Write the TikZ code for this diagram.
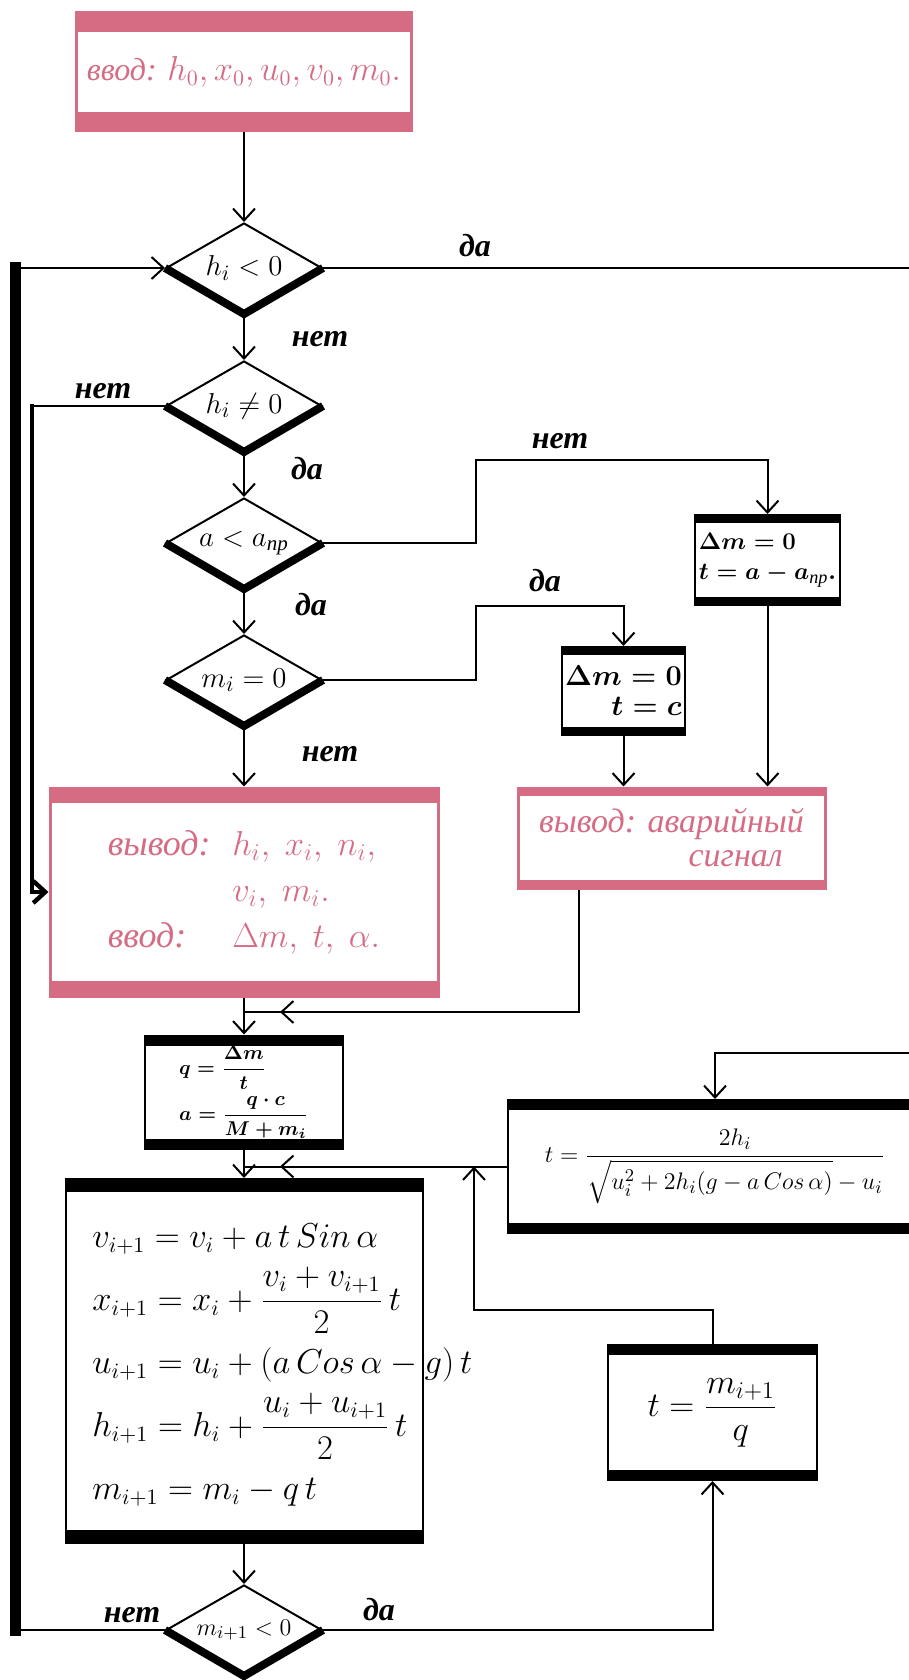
\documentclass[tikz,border=0pt]{standalone}
\usepackage{amsmath}
\usepackage{fontspec}
\setmainfont{Liberation Serif}
\usetikzlibrary{arrows.meta, shapes.geometric, decorations.markings, calc}
\definecolor{cpink}{HTML}{D56C84}
\tikzset{
  barh/.store in=\barw, barh=5pt,
  box/.style={draw=#1, fill=white, line width=1pt, inner sep=0pt, align=left,
    path picture={
      \fill[#1] (path picture bounding box.north west) rectangle ([yshift=-\barw]path picture bounding box.north east);
      \fill[#1] (path picture bounding box.south west) rectangle ([yshift=\barw]path picture bounding box.south east);}},
  box/.default=black,
  pk/.style={box=cpink, text=cpink, line width=1.5pt, font=\fontsize{16}{23}\selectfont\itshape},
  dec/.style={diamond, draw, fill=white, line width=1pt, aspect=1.75, minimum width=78pt, minimum height=45pt,
    inner sep=0pt, font=\fontsize{15}{17}\selectfont},
  lbl/.style={font=\fontsize{16}{18}\selectfont\bfseries\itshape},
  eqn/.style={font=\fontsize{16}{18}\selectfont, inner sep=0pt},
  conn/.style={line width=1pt},
  arr/.style={-{Straight Barb[length=6pt, width=11pt]}},
  midarr/.style={postaction={decorate, decoration={markings,
    mark=at position -18pt with {\arrow{Straight Barb[length=6pt, width=11pt]}}}}},
}

\begin{document}
\begin{tikzpicture}[x=0.5pt, y=-0.5pt]
  \useasboundingbox (0,0) rectangle (909,1680);
  \node[pk, barh=9.5pt, minimum width=167.5pt, minimum height=59pt] (inp) at (244,72) {ввод: $h_0, x_0, u_0, v_0, m_0.$};
  \node[dec] (d1) at (244,268) {$h_i<0$};
  \node[dec] (d2) at (244,406) {$h_i\neq0$};
  \node[dec] (d3) at (244,543) {$a<a_{\textit{пр}}$};
  \node[dec] (d4) at (244,680) {$m_i=0$};
  \node[pk, barh=7.5pt, minimum width=194pt, minimum height=104pt, font=\fontsize{18}{23}\selectfont\itshape] (outp) at (244,892)
    {\begin{tabular}{@{}l@{\hspace{0.6em}}l@{}}вывод: & $h_i,\ x_i,\ n_i,$\\ & $v_i,\ m_i.$\\ ввод: & $\Delta m,\ t,\ \alpha.$\end{tabular}};
  \node[box, barh=5pt, minimum width=99pt, minimum height=56.5pt, font=\fontsize{10}{23}\selectfont\boldmath] (qbox) at (244,1092)
    {$q = \dfrac{\Delta m}{t}$\\$a = \dfrac{q\cdot c}{M+m_i}$};
  \node[box, barh=6.5pt, minimum width=178.5pt, minimum height=182pt] (calc) at (244,1361) {};
  \foreach \eq [count=\k] in {{v_{i+1} = v_i + a\,t\,Sin\,\alpha}, {x_{i+1} = x_i + \dfrac{v_i+v_{i+1}}{2}\,t},
      {u_{i+1} = u_i + (a\,Cos\,\alpha - g)\,t}, {h_{i+1} = h_i + \dfrac{u_i+u_{i+1}}{2}\,t}, {m_{i+1} = m_i - q\,t}}
    \node[eqn, anchor=base west] (eq\k) at (92, 1184+63*\k) {$\eq$};
  \node[dec, font=\fontsize{13}{15}\selectfont] (d5) at (244,1630) {$m_{i+1}<0$};
  \node[box, barh=4pt, minimum width=72.5pt, minimum height=45pt, font=\fontsize{13}{15}\selectfont\boldmath] (boxa) at (767.5,560)
    {$\Delta m = 0$\\$t = a - a_{\textit{пр}}.$};
  \node[box, barh=4pt, minimum width=61.5pt, minimum height=44pt, align=right, font=\fontsize{14}{15}\selectfont\boldmath] (boxb) at (623.5,691)
    {$\Delta m = 0$\\$t = c$};
  \node[pk, barh=4pt, minimum width=153.5pt, minimum height=50pt, font=\fontsize{17}{17}\selectfont\itshape] (alarm) at (671.5,838)
    {вывод: аварийный\\\hspace*{4.4em}сигнал};
  \node[box, barh=5pt, minimum width=207pt, minimum height=66.5pt, font=\fontsize{13}{15}\selectfont] (tone) at (715,1166.5)
    {$t=\dfrac{2h_i}{\sqrt{u_i^2+2h_i(g-a\,Cos\,\alpha)}-u_i}$};
  \node[box, barh=5pt, minimum width=104.5pt, minimum height=67.5pt, font=\fontsize{18}{20}\selectfont] (ttwo) at (712.5,1412.5)
    {$t = \dfrac{m_{i+1}}{q}$};
  \foreach \d in {d1,d2,d3,d4,d5}
    \draw[line width=4pt] (\d.west) -- (\d.south) -- (\d.east);
  \node[lbl] (l1) at (320,339) {нет};
  \node[lbl] (l2) at (307,469) {да};
  \node[lbl] (l3) at (311,605) {да};
  \node[lbl] (l4) at (330,754) {нет};
  \node[lbl] (l5) at (103,391) {нет};
  \node[lbl] (l6) at (475,246) {да};
  \node[lbl] (l7) at (560,441) {нет};
  \node[lbl] (l8) at (545,581) {да};
  \node[lbl] (l9) at (132,1615) {нет};
  \node[lbl] (l10) at (379,1610) {да};
  \coordinate (lb) at (15,1630);
  \coordinate (lt) at (15,268);
  \coordinate (kt) at (32,406);
  \coordinate (e1) at (915,268);
  \coordinate (n1) at (476,460);
  \coordinate (n2) at (476,606);
  \coordinate (a1) at (579,1012);
  \coordinate (e2) at (915,1053);
  \coordinate (e3) at (715,1053);
  \coordinate (r1) at (474,1310);
  \draw[conn, arr] (inp) -- (d1);
  \draw[conn, arr] (d1) -- (d2);
  \draw[conn, arr] (d2) -- (d3);
  \draw[conn, arr] (d3) -- (d4);
  \draw[conn, arr] (d4) -- (outp);
  \draw[conn, arr] (outp) -- (qbox);
  \draw[conn, arr] (qbox) -- (calc);
  \draw[conn, arr] (calc) -- (d5);
  \draw[conn, arr] (d5.west) -- (lb) -- (lt) -- (d1.west);
  \draw[line width=5.5pt, line cap=rect] (lb) -- (lt);
  \draw[conn] (d2.west) -- (kt);
  \draw[line width=2.2pt, line cap=rect, arr] (kt) |- (outp.west);
  \draw[conn] (d1.east) -- (e1);
  \draw[conn, arr] (d3.east) -| (n1) -| (boxa.north);
  \draw[conn, arr] (d4.east) -| (n2) -| (boxb.north);
  \draw[conn, arr] (boxa.south) -- (boxa.south |- alarm.north);
  \draw[conn, arr] (boxb.south) -- (boxb.south |- alarm.north);
  \draw[conn, midarr] (alarm.south -| a1) -- (a1) -- (a1 -| outp.south);
  \draw[conn, arr] (e2) -- (e3) -- (e3 |- tone.north);
  \draw[conn, midarr] (tone.west) -- (tone.west -| calc.north);
  \draw[conn, arr] (d5.east) -| (ttwo.south);
  \draw[conn, arr] (ttwo.north) |- (r1) -- (r1 |- tone.west);
\end{tikzpicture}
\end{document}
